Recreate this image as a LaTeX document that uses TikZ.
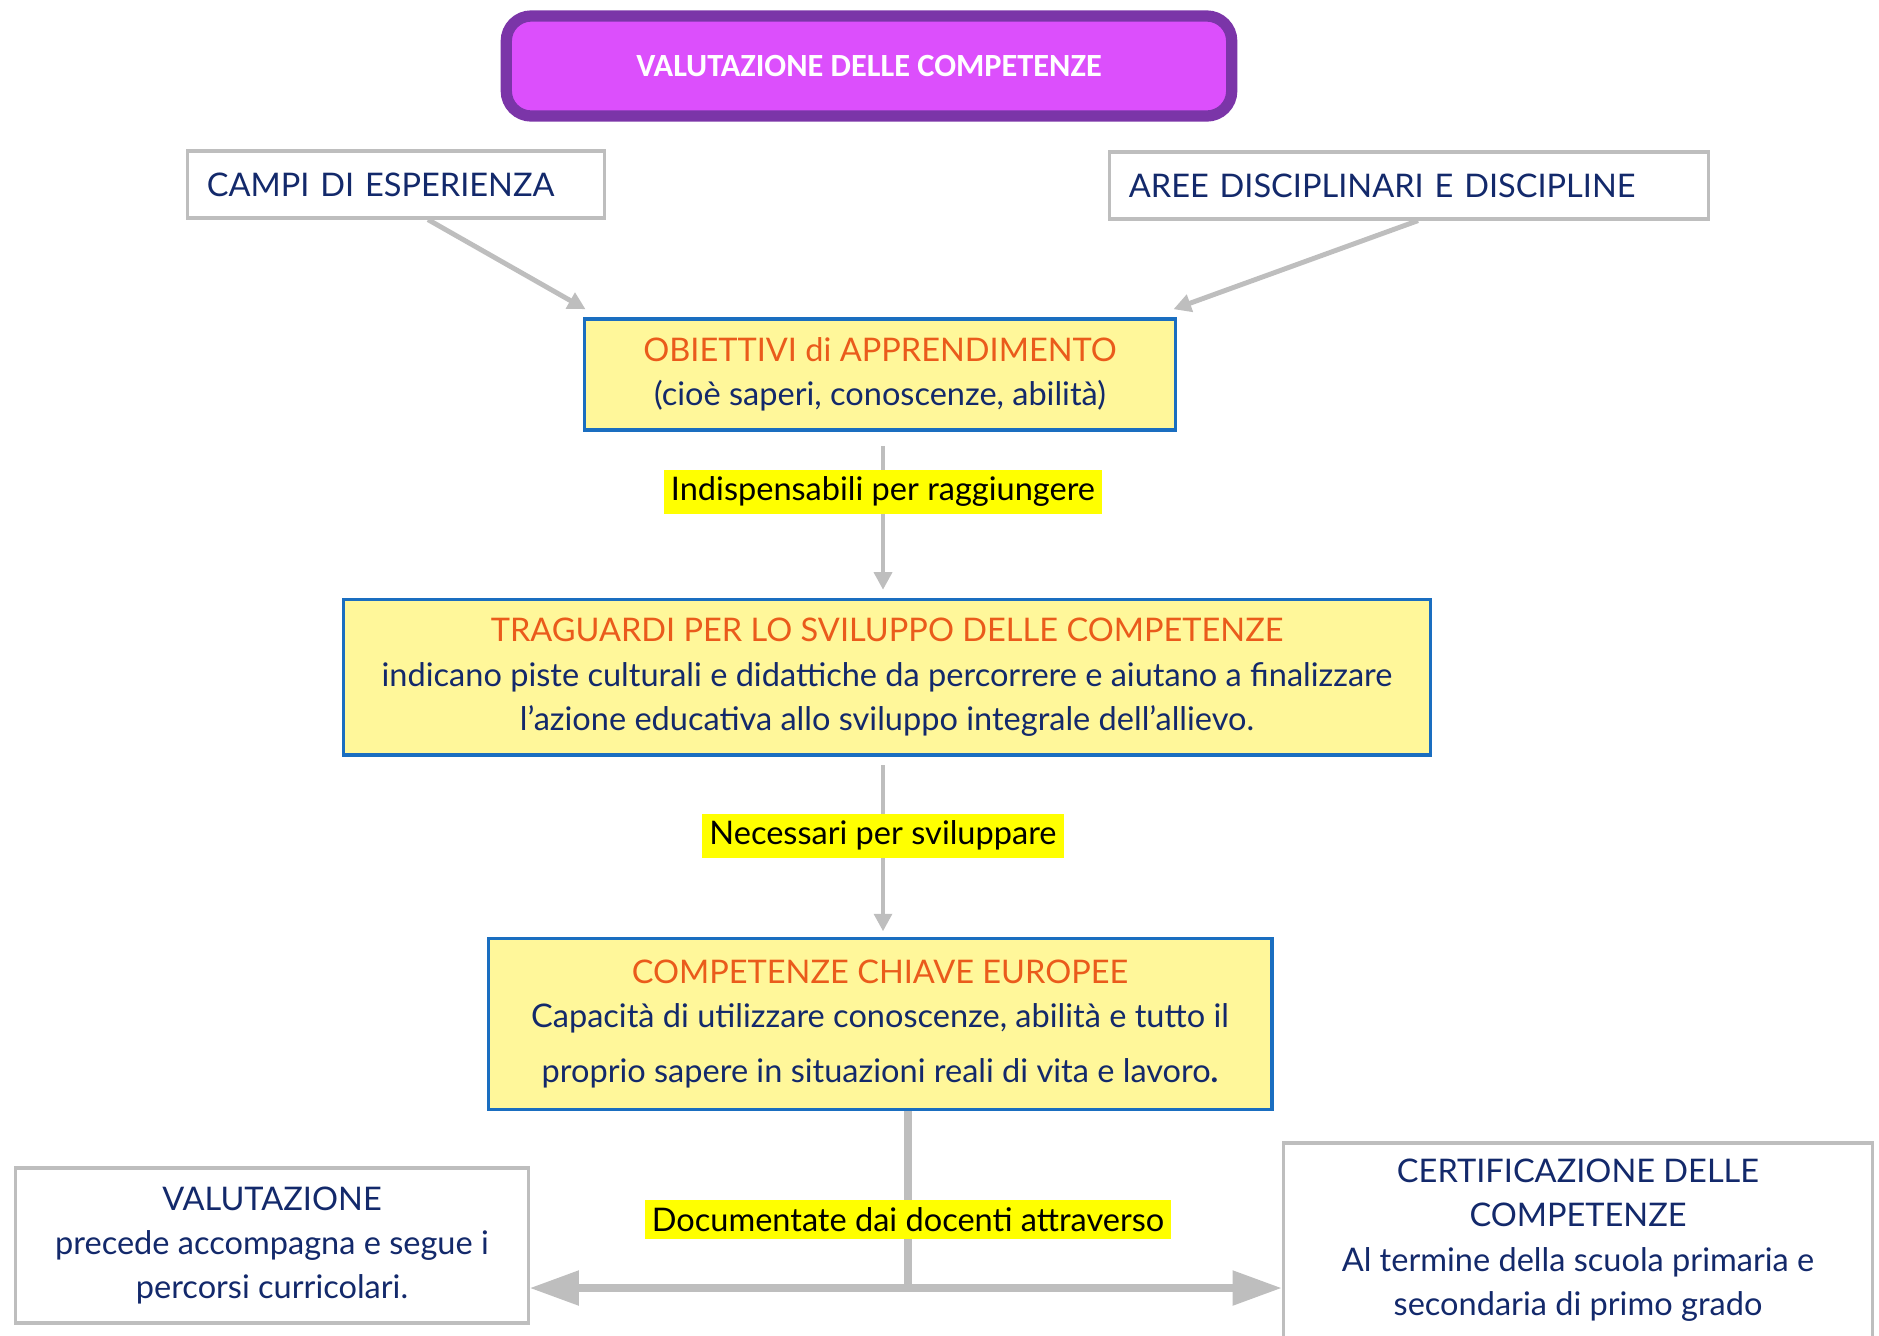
\documentclass[tikz,border=0pt]{standalone}
\usepackage{fontspec}
\setmainfont{Lato}
\newfontfamily\titlefont{Carlito}
\usetikzlibrary{arrows.meta,positioning}

\definecolor{navy}{HTML}{13296B}
\definecolor{rust}{HTML}{EA5B1B}
\definecolor{pale}{HTML}{FFF79A}
\definecolor{edgeblue}{HTML}{1A6EC0}
\definecolor{wire}{HTML}{BEBEBE}
\definecolor{marker}{HTML}{FFFF00}
\definecolor{plum}{HTML}{7B35A8}
\definecolor{orchid}{HTML}{DC4FFC}

\begin{document}
\begin{tikzpicture}[x=0.01cm,y=-0.01cm,font=\fontsize{9.25}{12.6}\selectfont]
  \tikzstyle{frame}=[draw=wire,line width=0.9pt,fill=white,text=navy,inner sep=0pt]
  \tikzstyle{goal}=[draw=edgeblue,line width=1pt,fill=pale,text=navy,align=center,inner sep=0pt]
  \tikzstyle{tag}=[fill=marker,text=black,inner sep=2pt]
  \tikzstyle{link}=[-{Triangle[length=5pt,width=5pt]},draw=wire,line width=1.4pt]
  \tikzstyle{fork}=[-{Triangle[length=14pt,width=9.5pt]},draw=wire,line width=2.1pt]

  \path[use as bounding box,clip] (0,0) rectangle (1879,1335);

  \node[draw=plum,line width=3.2pt,fill=orchid,rounded corners=0.25cm,
        minimum width=7.25cm,minimum height=1cm,text=white,
        font=\titlefont\bfseries\fontsize{9.2}{10}\selectfont] (title) at (869,66) {VALUTAZIONE DELLE COMPETENZE};

  \node[frame,minimum width=4.16cm,minimum height=0.67cm,text width=3.78cm,inner xsep=0.19cm,align=left] (campi) at (396,184.5) {CAMPI DI ESPERIENZA};
  \node[frame,minimum width=5.98cm,minimum height=0.67cm,text width=5.6cm,inner xsep=0.19cm,align=left] (aree) at (1409,185.5) {AREE DISCIPLINARI E DISCIPLINE};

  \node[goal,minimum width=5.91cm,minimum height=1.11cm] (obj) at (880,374.5)
    {\textcolor{rust}{OBIETTIVI di APPRENDIMENTO}\\(cioè saperi, conoscenze, abilità)};
  \node[goal,minimum width=10.86cm,minimum height=1.55cm,below=1.66cm of obj,xshift=0.07cm] (trag)
    {\textcolor{rust}{TRAGUARDI PER LO SVILUPPO DELLE COMPETENZE}\\
     indicano piste culturali e didattiche da percorrere e aiutano a finalizzare\\
     l’azione educativa allo sviluppo integrale dell’allievo.};
  \node[goal,minimum width=7.83cm,minimum height=1.71cm,below=1.80cm of trag,xshift=-0.07cm] (comp)
    {\textcolor{rust}{COMPETENZE CHIAVE EUROPEE}\\
     Capacità di utilizzare conoscenze, abilità e tutto il\\[3pt]
     proprio sapere in situazioni reali di vita e lavoro\textbf{.}};

  \node[frame,minimum width=5.12cm,minimum height=1.55cm,align=center] (valut) at (272,1245.5)
    {VALUTAZIONE\\precede accompagna e segue i\\percorsi curricolari.};
  \node[frame,minimum width=5.89cm,minimum height=1.94cm,align=center] (cert) at (1578,1240)
    {CERTIFICAZIONE DELLE\\COMPETENZE\\Al termine della scuola primaria e\\secondaria di primo grado};

  % frecce
  \draw[link] ([xshift=0.32cm]campi.south) -- ([shift={(0.03cm,0.08cm)}]obj.north west);
  \draw[link] ([xshift=0.09cm]aree.south) -- ([shift={(-0.04cm,0.08cm)}]obj.north east);
  \draw[link,shorten <=4pt,shorten >=2.3pt] ([xshift=0.03cm]obj.south) -- node[tag,pos=0.36] {Indispensabili per raggiungere} ([xshift=0.03cm]obj.south |- trag.north);
  \draw[link,shorten <=2.5pt,shorten >=1.5pt] ([xshift=-0.04cm]trag.south) -- node[tag,pos=0.44] {Necessari per sviluppare} ([xshift=-0.04cm]trag.south |- comp.north);

  \coordinate (split) at (908,1288);
  \draw[wire,line width=2.3pt] (comp.south -| split) -- node[tag,pos=0.60] {Documentate dai docenti attraverso} ([yshift=-1pt]split);
  \draw[fork] (split) -- (valut.east |- split);
  \draw[fork] (split) -- (cert.west |- split);
\end{tikzpicture}
\end{document}
